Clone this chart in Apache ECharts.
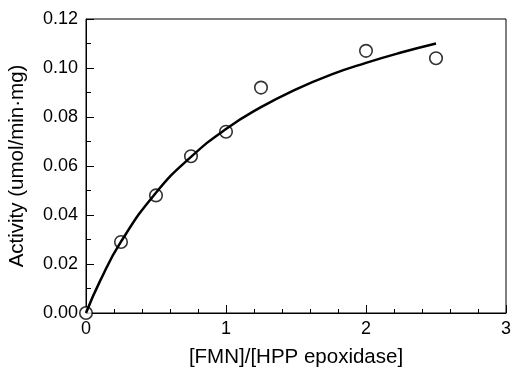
<!DOCTYPE html>
<html><head><meta charset="utf-8">
<script src="https://cdn.jsdelivr.net/npm/echarts@6/dist/echarts.min.js"></script>
<style>html,body{margin:0;padding:0;background:#fff}#c{width:512px;height:369px}</style>
</head><body><div id="c"></div>
<script>
const pointX = [0, 0.25, 0.5, 0.75, 1.0, 1.25, 2.0, 2.5];
const pointY = [0.000, 0.029, 0.048, 0.064, 0.074, 0.092, 0.107, 0.104];
const curveX = [0, 0.1, 0.25, 0.5, 0.75, 1.0, 1.25, 1.5, 1.75, 2.0, 2.25, 2.5];
const curveY = [0, 0.0130, 0.0291, 0.0491, 0.0637, 0.0751, 0.0840, 0.0913, 0.0973, 0.1021, 0.1063, 0.1100];
const xTicks = [0, 1, 2, 3];
const yTicks = ['0.00', '0.02', '0.04', '0.06', '0.08', '0.10', '0.12'];

const font = 'Liberation Sans, Arial, Helvetica, sans-serif';
const chart = echarts.init(document.getElementById('c'));
chart.setOption({
  animation: false,
  grid: { left: 86, right: 6, top: 19, bottom: 56, show: true, borderColor: '#000', borderWidth: 1,
          containLabel: false, outerBoundsMode: 'none' },
  xAxis: {
    type: 'value', min: 0, max: 3, interval: 1,
    name: '[FMN]/[HPP epoxidase]', nameLocation: 'middle', nameGap: 34,
    nameTextStyle: { fontFamily: font, fontSize: 20.5, color: '#000' },
    axisLine: { lineStyle: { color: '#000', width: 1 } },
    axisTick: { inside: true, length: 8, lineStyle: { color: '#000' } },
    minorTick: { show: true, splitNumber: 5, length: 4, lineStyle: { color: '#000' } },
    splitLine: { show: false },
    axisLabel: { fontFamily: font, fontSize: 18, color: '#000', margin: 7,
      formatter: v => String(xTicks[xTicks.indexOf(v)]) }
  },
  yAxis: {
    type: 'value', min: 0, max: 0.12, interval: 0.02,
    name: 'Activity (umol/min·mg)', nameLocation: 'middle', nameGap: 58,
    nameTextStyle: { fontFamily: font, fontSize: 20.5, color: '#000' },
    axisLine: { show: true, lineStyle: { color: '#000', width: 1 } },
    axisTick: { show: true, inside: true, length: 8, lineStyle: { color: '#000' } },
    minorTick: { show: true, splitNumber: 2, length: 5, lineStyle: { color: '#000' } },
    splitLine: { show: false },
    axisLabel: { fontFamily: font, fontSize: 18, color: '#000', margin: 8,
      formatter: v => yTicks[Math.round(v / 0.02)] }
  },
  series: [
    {
      type: 'line', data: curveX.map((x, i) => [x, curveY[i]]), smooth: true,
      showSymbol: false, symbol: 'none',
      lineStyle: { color: '#000', width: 2.5 }
    },
    {
      type: 'scatter', data: pointX.map((x, i) => [x, pointY[i]]), clip: false,
      symbol: 'circle', symbolSize: 12.5,
      itemStyle: { color: '#fff', borderColor: '#000', borderWidth: 1.6 }
    }
  ]
});
</script></body></html>
